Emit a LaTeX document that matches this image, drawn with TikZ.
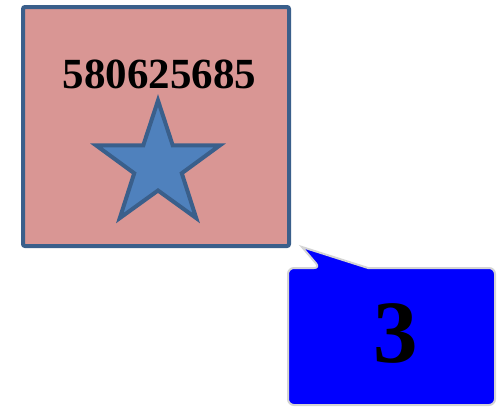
\documentclass[tikz,border=0pt]{standalone}
\usepackage{fontspec}
\setmainfont{Liberation Serif}
\usetikzlibrary{shapes.geometric}
\definecolor{edgeblue}{HTML}{3A5F8B}
\definecolor{boxfill}{HTML}{D99694}
\definecolor{starfill}{HTML}{4F81BD}
\definecolor{callgray}{HTML}{D4D4D4}
\tikzset{
  bigbox/.style={draw=edgeblue, fill=boxfill, line width=4pt, rounded corners=2pt,
    minimum width=266pt, minimum height=239pt, inner sep=0pt},
  starshape/.style={star, star points=5, star point ratio=2.6, draw=edgeblue, fill=starfill,
    line width=4pt, minimum size=130pt, inner sep=0pt},
  numtext/.style={font=\bfseries\fontsize{43}{43}\selectfont, inner sep=0pt},
  calltext/.style={font=\bfseries\fontsize{89}{89}\selectfont, inner sep=0pt},
  callshape/.style={fill=blue, draw=callgray, line width=2pt}
}
\begin{document}
\begin{tikzpicture}[x=1pt, y=-1pt]
\useasboundingbox (0,0) rectangle (500,407);
\node[bigbox] (box) at (156,126.5) {};
\node[numtext, anchor=base] (num) at (159.5,88) {580625685};
\node[starshape] (st) at (158,165.5) {};
\coordinate (tip) at (302,247);
\draw[callshape] (tip) -- (368,268) [rounded corners=6pt] -- (495,268) -- (495,405) -- (288,405) -- (288,268) -- (320,268) [sharp corners] -- cycle;
\node[calltext, anchor=base] (three) at (396,362) {3};
\end{tikzpicture}
\end{document}
